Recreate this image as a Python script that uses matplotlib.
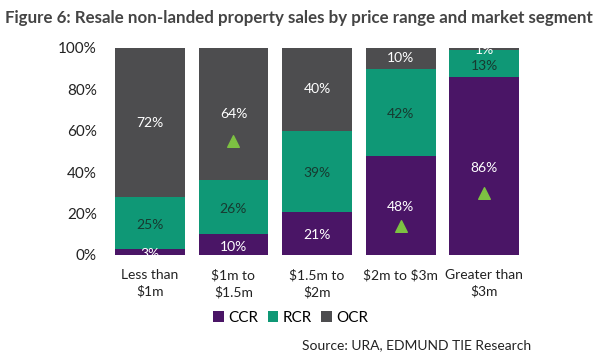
import numpy as np
import matplotlib.pyplot as plt

plt.rcParams['font.family'] = ['Lato', 'DejaVu Sans']
plt.rcParams['text.parse_math'] = False

categories = ["Less than\n$1m", "$1m to\n$1.5m", "$1.5m to\n$2m", "$2m to $3m", "Greater than\n$3m"]
ccr = [3, 10, 21, 48, 86]
rcr = [25, 26, 39, 42, 13]
ocr = [72, 64, 40, 10, 1]
# green arrow markers (category index, y in %)
arrow_idx = [1, 3, 4]
arrow_y = [55, 14, 30]

c_ccr = '#4a1566'
c_rcr = '#0f9876'
c_ocr = '#4d4d4f'

fig = plt.figure(figsize=(6, 3.6), dpi=100)
ax = fig.add_axes([0.18, 0.2917, 0.697, 0.575])
x = np.arange(len(categories))
w = 0.835

b1 = ax.bar(x, ccr, w, color=c_ccr, label='CCR')
b2 = ax.bar(x, rcr, w, bottom=ccr, color=c_rcr, label='RCR')
bot3 = np.array(ccr) + np.array(rcr)
b3 = ax.bar(x, ocr, w, bottom=bot3, color=c_ocr, label='OCR')

for i in range(len(x)):
    ax.text(x[i], ccr[i] / 2 - 1, f"{ccr[i]}%", ha='center', va='center', color='white', fontsize=10)
    ax.text(x[i], ccr[i] + rcr[i] / 2 - 1, f"{rcr[i]}%", ha='center', va='center', color='#173a30', fontsize=10)
    oy = bot3[i] + ocr[i] / 2
    if ocr[i] < 5:
        oy = 99
    ax.text(x[i], oy, f"{ocr[i]}%", ha='center', va='center', color='white', fontsize=10)

ax.scatter(arrow_idx, arrow_y, marker='^', s=70, color='#7dc242', zorder=3)

ax.set_xlim(-0.5, 4.5)
ax.set_ylim(0, 100)
ax.set_yticks([0, 20, 40, 60, 80, 100])
ax.set_yticklabels([f"{v}%" for v in [0, 20, 40, 60, 80, 100]], fontsize=11, color='#222222')
ax.set_xticks(x)
ax.set_xticklabels(categories, fontsize=10, color='#222222', linespacing=1.4)
ax.tick_params(length=0, pad=8)
ax.tick_params(axis='x', pad=10)
for s in ax.spines.values():
    s.set_visible(False)

fig.legend(handles=[b1, b2, b3], loc='center', bbox_to_anchor=(0.485, 0.117), ncol=3, frameon=False,
           fontsize=11, handlelength=0.7, handleheight=0.7, handletextpad=0.3, columnspacing=0.6)

fig.text(0.008, 0.95, "Figure 6: Resale non-landed property sales by price range and market segment",
         fontsize=12.2, fontweight='bold', color='#444444', va='center')
fig.text(0.885, 0.04, "Source: URA, EDMUND TIE Research", fontsize=10, color='#222222', ha='right', va='center')

fig.savefig('out.png', dpi=100)
